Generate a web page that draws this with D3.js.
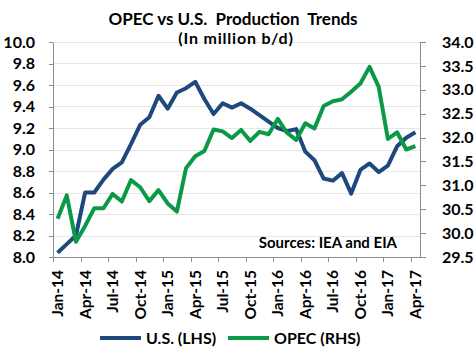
<!DOCTYPE html>
<html lang="en">
<head>
    <meta charset="UTF-8">
    <title>OPEC vs U.S. Production Trends</title>
    <script src="https://d3js.org/d3.v7.min.js"></script>
    <style>
        body { margin: 0; background: #fff; }
        svg text { font-family: Lato, "Open Sans", sans-serif; font-weight: bold; fill: #000; }
        .axis path, .axis line { stroke: #8c8c8c; shape-rendering: crispEdges; }
        .grid line { stroke: #e6e6e6; shape-rendering: crispEdges; }
    </style>
</head>
<body>
    <svg id="chart" width="474" height="350"></svg>
    <script>
        // monthly data, Jan-14 .. Apr-17
        const monthNames = ["Jan","Feb","Mar","Apr","May","Jun","Jul","Aug","Sep","Oct","Nov","Dec"];
        const months = d3.range(40).map(i => monthNames[i % 12] + "-" + (14 + Math.floor(i / 12)));

        // U.S. production, left axis
        const usValues = [8.04, 8.12, 8.20, 8.60, 8.60, 8.72, 8.82, 8.88, 9.05, 9.23,
                          9.30, 9.50, 9.38, 9.53, 9.57, 9.63, 9.47, 9.33, 9.43, 9.39,
                          9.43, 9.38, 9.32, 9.26, 9.20, 9.17, 9.19, 8.98, 8.90, 8.73,
                          8.71, 8.78, 8.59, 8.81, 8.87, 8.79, 8.85, 9.03, 9.11, 9.16];
        // OPEC production, right axis
        const opecValues = [30.30, 30.79, 29.82, 30.15, 30.52, 30.52, 30.82, 30.66, 31.11, 30.96,
                            30.67, 30.90, 30.62, 30.45, 31.36, 31.61, 31.72, 32.17, 32.13, 31.99,
                            32.16, 31.93, 32.12, 32.07, 32.39, 32.10, 31.95, 32.30, 32.19, 32.66,
                            32.76, 32.80, 32.96, 33.13, 33.48, 33.06, 31.97, 32.11, 31.75, 31.82];

        const leftTicks = d3.range(8.0, 10.01, 0.2);
        const rightTicks = d3.range(29.5, 34.01, 0.5);
        const tickMonths = months.filter((m, i) => i % 3 === 0);

        const blue = "#1f497d", green = "#0a9a47";
        const plot = { left: 53, right: 420, top: 42, bottom: 257 };

        const svg = d3.select("#chart");

        const x = d3.scaleBand().domain(months).range([plot.left, plot.right]);
        const yL = d3.scaleLinear().domain([8.0, 10.0]).range([plot.bottom, plot.top]);
        const yR = d3.scaleLinear().domain([29.5, 34.0]).range([plot.bottom, plot.top]);

        // gridlines
        svg.append("g").attr("class", "grid")
            .selectAll("line").data(leftTicks.slice(1)).enter().append("line")
            .attr("x1", plot.left).attr("x2", plot.right)
            .attr("y1", d => Math.round(yL(d)) + 0.5).attr("y2", d => Math.round(yL(d)) + 0.5);

        // left axis
        const gL = svg.append("g").attr("class", "axis")
            .attr("transform", "translate(" + plot.left + ",0)")
            .call(d3.axisLeft(yL).tickValues(leftTicks).tickFormat(d3.format(".1f")).tickSize(4).tickSizeOuter(0).tickPadding(14));
        gL.selectAll("text").style("font-size", "16px");

        // right axis
        const gR = svg.append("g").attr("class", "axis")
            .attr("transform", "translate(" + plot.right + ",0)")
            .call(d3.axisRight(yR).tickValues(rightTicks).tickFormat(d3.format(".1f")).tickSize(6).tickSizeOuter(0).tickPadding(16));
        gR.selectAll("text").style("font-size", "16px");

        // bottom axis: ticks at category boundaries, labels at category centers
        const gB = svg.append("g").attr("class", "axis")
            .attr("transform", "translate(0," + plot.bottom + ")");
        gB.append("line").attr("x1", plot.left).attr("x2", plot.right).attr("y1", 0.5).attr("y2", 0.5);
        gB.selectAll(".tk").data(tickMonths).enter().append("line")
            .attr("x1", d => Math.round(x(d)) + 0.5).attr("x2", d => Math.round(x(d)) + 0.5)
            .attr("y1", 0).attr("y2", 5);
        gB.selectAll("text").data(tickMonths).enter().append("text")
            .attr("transform", d => "translate(" + (x(d) + x.bandwidth() / 2 + 5.5) + ",13) rotate(-90)")
            .attr("text-anchor", "end")
            .style("font-size", "15.5px")
            .text(d => d);

        // lines
        const lineL = d3.line().x((d, i) => x(months[i]) + x.bandwidth() / 2).y(d => yL(d));
        const lineR = d3.line().x((d, i) => x(months[i]) + x.bandwidth() / 2).y(d => yR(d));

        svg.append("path").datum(usValues)
            .attr("d", lineL).attr("fill", "none").attr("stroke", blue)
            .attr("stroke-width", 4).attr("stroke-linejoin", "round");
        svg.append("path").datum(opecValues)
            .attr("d", lineR).attr("fill", "none").attr("stroke", green)
            .attr("stroke-width", 4).attr("stroke-linejoin", "round");

        // titles
        svg.append("text").attr("x", 233).attr("y", 25).attr("text-anchor", "middle")
            .style("font-size", "17px").attr("xml:space", "preserve")
            .text("OPEC vs U.S.  Production  Trends");
        svg.append("text").attr("x", 236).attr("y", 44).attr("text-anchor", "middle")
            .style("font-size", "16px").style("letter-spacing", "0.8px").text("(In million b/d)");

        // source note
        svg.append("text").attr("x", 397).attr("y", 248).attr("text-anchor", "end")
            .style("font-size", "15px").text("Sources: IEA and EIA");

        // legend
        const legend = [
            { name: "U.S. (LHS)", color: blue, x: 100 },
            { name: "OPEC (RHS)", color: green, x: 228 }
        ];
        const lg = svg.append("g").selectAll("g").data(legend).enter().append("g");
        lg.append("line").attr("x1", d => d.x).attr("x2", d => d.x + 41)
            .attr("y1", 338).attr("y2", 338).attr("stroke", d => d.color).attr("stroke-width", 4);
        lg.append("text").attr("x", d => d.x + 46).attr("y", 344)
            .style("font-size", "16px").text(d => d.name);
    </script>
</body>
</html>
